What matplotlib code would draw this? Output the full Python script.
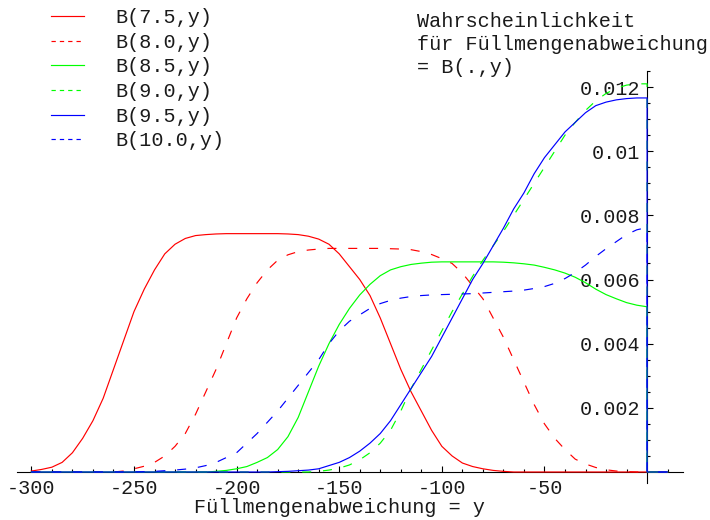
import numpy as np
import matplotlib
matplotlib.use("Agg")
import matplotlib.pyplot as plt
from matplotlib.lines import Line2D
from matplotlib.ticker import FixedLocator, FixedFormatter

# Füllmengenabweichung y, sampled every 5 units from -300 to 0
abweichung = np.arange(-300, 5, 5)
# beyond y = 0 every curve is zero
ueberfuellung = [0, 10]

b75 = [0.00003, 0.00008, 0.00015, 0.0003, 0.0006, 0.00105, 0.0016, 0.0023, 0.0032, 0.0041,
       0.0050, 0.0057, 0.0063, 0.0068, 0.0071, 0.00728, 0.00737, 0.0074, 0.00742, 0.00743,
       0.00743, 0.00743, 0.00743, 0.00743, 0.00743, 0.00742, 0.0074, 0.00735, 0.00726, 0.0071,
       0.0068, 0.0064, 0.0060, 0.0055, 0.0048, 0.0040, 0.0032, 0.0025, 0.0019, 0.0013,
       0.0008, 0.0005, 0.00028, 0.00017, 0.0001, 0.00005, 0.00002, 0, 0, 0,
       0, 0, 0, 0, 0, 0, 0, 0, 0, 0, 0]
b80 = [0, 0, 0, 0, 0, 0, 0, 0, 0, 0.00003,
       0.0001, 0.00018, 0.0003, 0.0005, 0.0008, 0.0012, 0.0018, 0.0025, 0.0032, 0.0040,
       0.0048, 0.0054, 0.0059, 0.0063, 0.0066, 0.00677, 0.00687, 0.00692, 0.00695, 0.00697,
       0.00697, 0.00697, 0.00697, 0.00697, 0.00697, 0.00696, 0.00695, 0.00693, 0.00687, 0.00678,
       0.00665, 0.0065, 0.0062, 0.0058, 0.0054, 0.0048, 0.0042, 0.0035, 0.0028, 0.0021,
       0.0015, 0.00105, 0.0007, 0.0004, 0.00025, 0.00014, 0.00007, 0.00003, 0.00001, 0, 0]
b85 = [0, 0, 0, 0, 0, 0, 0, 0, 0, 0,
       0, 0, 0, 0, 0, 0, 0, 0, 0.00002, 0.00005,
       0.0001, 0.00017, 0.0003, 0.00045, 0.0007, 0.0011, 0.0017, 0.0025, 0.0033, 0.0040,
       0.0046, 0.0051, 0.00552, 0.00585, 0.00612, 0.0063, 0.0064, 0.00647, 0.00651, 0.00654,
       0.00655, 0.00655, 0.00655, 0.00655, 0.00655, 0.00655, 0.00654, 0.00652, 0.00649, 0.00645,
       0.00638, 0.0063, 0.0062, 0.00607, 0.0059, 0.0057, 0.00553, 0.0054, 0.00528, 0.0052, 0.00515]
b90 = [0, 0, 0, 0, 0, 0, 0, 0, 0, 0,
       0, 0, 0, 0, 0, 0, 0, 0, 0, 0,
       0, 0, 0, 0, 0, 0, 0, 0, 0.00002, 0.00006,
       0.00012, 0.00022, 0.00038, 0.0006, 0.0009, 0.0013, 0.0019, 0.0026, 0.0032, 0.0038,
       0.0044, 0.0050, 0.00555, 0.0061, 0.0066, 0.00705, 0.0075, 0.0080, 0.0085, 0.0090,
       0.0095, 0.0100, 0.0105, 0.0109, 0.01127, 0.01157, 0.0118, 0.01196, 0.01206, 0.0121, 0.0121]
b95 = [0, 0, 0, 0, 0, 0, 0, 0, 0, 0,
       0, 0, 0, 0, 0, 0, 0, 0, 0, 0,
       0, 0, 0, 0, 0.00001, 0.00002, 0.00004, 0.00006, 0.0001, 0.0002,
       0.0003, 0.00045, 0.00065, 0.0009, 0.0012, 0.0016, 0.0021, 0.0026, 0.0031, 0.0036,
       0.0042, 0.0048, 0.0054, 0.0060, 0.0065, 0.00705, 0.0076, 0.0082, 0.0087, 0.0093,
       0.0098, 0.0102, 0.0106, 0.0109, 0.0112, 0.01142, 0.01153, 0.0116, 0.01164, 0.01166, 0.01166]
b100 = [0, 0, 0, 0, 0, 0, 0, 0, 0, 0,
        0, 0.00001, 0.00002, 0.00004, 0.00006, 0.00009, 0.00013, 0.0002, 0.0003, 0.00045,
        0.0006, 0.0009, 0.0012, 0.00155, 0.0019, 0.0023, 0.0027, 0.0031, 0.0035, 0.0040,
        0.0044, 0.0047, 0.0049, 0.0051, 0.00525, 0.00535, 0.00542, 0.00547, 0.0055, 0.00552,
        0.00553, 0.00554, 0.00555, 0.00556, 0.00558, 0.0056, 0.00562, 0.00564, 0.00567, 0.00572,
        0.00578, 0.00588, 0.00603, 0.00622, 0.00645, 0.00672, 0.00696, 0.00718, 0.0074, 0.00755, 0.00762]

labels = ["B(7.5,y)", "B(8.0,y)", "B(8.5,y)", "B(9.0,y)", "B(9.5,y)", "B(10.0,y)"]
colors = ["#ff0000", "#ff0000", "#00ff00", "#00ff00", "#0000ff", "#0000ff"]
dashed = [False, True, False, True, False, True]

x_major = [-300, -250, -200, -150, -100, -50]
x_major_labels = ["-300", "-250", "-200", "-150", "-100", "-50"]
x_minor = [v for v in range(-290, 20, 10) if v % 50 != 0]
y_major = [0.002, 0.004, 0.006, 0.008, 0.010, 0.012]
y_major_labels = ["0.002", "0.004", "0.006", "0.008", "0.01", "0.012"]
y_minor = [k * 0.0005 for k in range(1, 26) if k % 4 != 0]

FONT = "Liberation Mono"
FS = 14.5
TXT = "#1a1a1a"
plt.rcParams["font.family"] = [FONT, "DejaVu Sans Mono"]

W, H = 710, 520
fig = plt.figure(figsize=(W / 100, H / 100), dpi=100)
ax = fig.add_axes([17 / W, (H - 483) / H, (683 - 17) / W, (483 - 71) / H])
ax.set_xlim(-307, 17.5)
ax.set_ylim(-0.000343, 0.0125)

lw = 0.85
plot_dash = (6.5 / lw, 8.5 / lw)
legend_dash = (3.1 / lw, 2.9 / lw)

series = [b75, b80, b85, b90, b95, b100]
xs = np.concatenate([abweichung, ueberfuellung])
handles = []
for vals, lab, col, dsh in zip(series, labels, colors, dashed):
    ys = np.concatenate([vals, [0, 0]])
    line, = ax.plot(xs, ys, color=col, lw=lw, zorder=3, solid_joinstyle="round")
    if dsh:
        line.set_dashes(plot_dash)
    h = Line2D([], [], color=col, lw=lw)
    if dsh:
        h.set_dashes(legend_dash)
    handles.append(h)

# axes drawn through the origin
for s in ["top", "right"]:
    ax.spines[s].set_visible(False)
ax.spines["left"].set_position(("data", 0))
ax.spines["bottom"].set_position(("data", 0))
for s in ["left", "bottom"]:
    ax.spines[s].set_linewidth(0.8)
    ax.spines[s].set_zorder(2)

ax.xaxis.set_major_locator(FixedLocator(x_major))
ax.xaxis.set_major_formatter(FixedFormatter(x_major_labels))
ax.xaxis.set_minor_locator(FixedLocator(x_minor))
ax.yaxis.set_major_locator(FixedLocator(y_major))
ax.yaxis.set_major_formatter(FixedFormatter(y_major_labels))
ax.yaxis.set_minor_locator(FixedLocator(y_minor))
ax.tick_params(which="both", direction="in", width=0.8, labelsize=FS, labelcolor=TXT)
ax.tick_params(which="major", length=4)
ax.tick_params(which="minor", length=2.2)
ax.tick_params(axis="x", which="major", pad=4.8)
ax.tick_params(axis="y", which="major", pad=5)
for t in ax.get_xticklabels() + ax.get_yticklabels():
    t.set_fontfamily(FONT)

fig.text(340 / W, 1 - 513 / H, "Füllmengenabweichung = y", ha="center", va="baseline",
         fontsize=FS, family=FONT, color=TXT)

leg = ax.legend(handles, labels, loc="upper left", bbox_to_anchor=(51 / W, 1 - 8 / H),
                bbox_transform=fig.transFigure, frameon=False, prop={"family": FONT, "size": FS},
                handlelength=1.65, handletextpad=1.55, labelspacing=0.28, borderpad=0,
                borderaxespad=0)
for t in leg.get_texts():
    t.set_color(TXT)

fig.text(417 / W, 1 - 12 / H, "Wahrscheinlichkeit\nfür Füllmengenabweichung\n= B(.,y)",
         ha="left", va="top", fontsize=FS, family=FONT, color=TXT, linespacing=1.28)

fig.savefig("out.png", dpi=100)
